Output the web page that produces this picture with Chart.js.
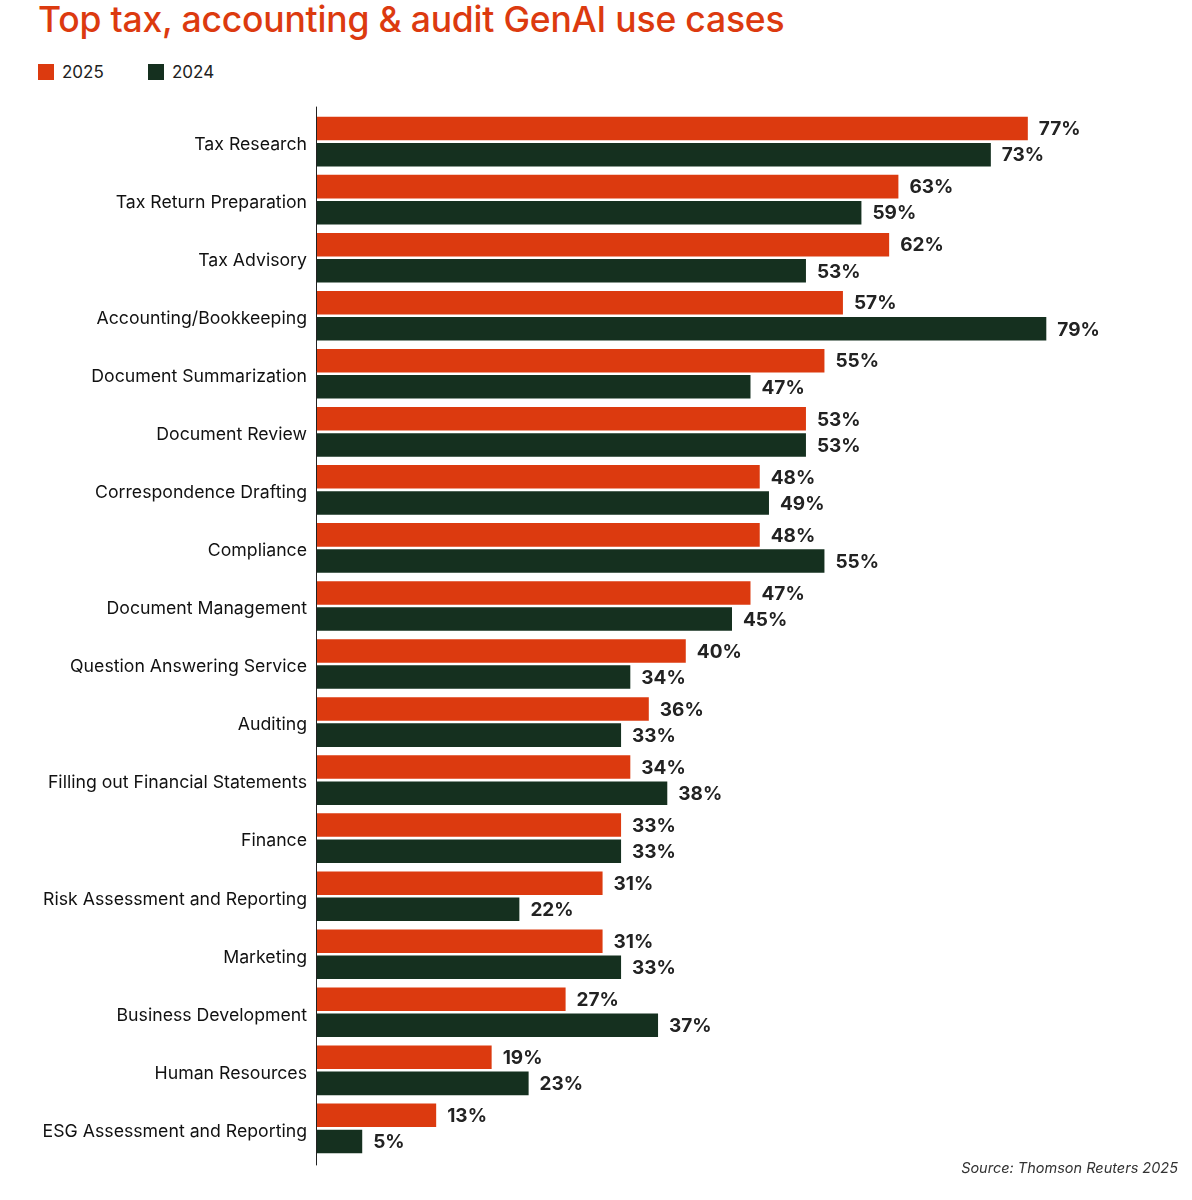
<!DOCTYPE html>
<html>
<head>
<meta charset="utf-8">
<script src="https://cdn.jsdelivr.net/npm/chart.js@4"></script>
<style>
  body { margin: 0; background: #fff; font-family: Inter, "Noto Sans", sans-serif; }
  #wrap { position: relative; width: 1192px; height: 1200px; }
  h1 { position: absolute; left: 38px; top: -2px; margin: 0; font-size: 35.5px; font-weight: 500; color: #DC3A0F; letter-spacing: -0.2px; }
  .legend { position: absolute; top: 62px; left: 38px; font-size: 17px; color: #222; }
  .legend span { position: absolute; white-space: nowrap; line-height: 20px; }
  .legend i { display: inline-block; width: 16px; height: 16px; vertical-align: -2px; margin-right: 8px; }
  #box { position: absolute; left: 0; top: 93px; width: 1192px; height: 1084px; }
  .src { position: absolute; right: 14px; top: 1159px; font-size: 14.5px; font-style: italic; color: #333; }
</style>
</head>
<body>
<div id="wrap">
  <h1>Top tax, accounting &amp; audit GenAI use cases</h1>
  <div class="legend">
    <span style="left:0"><i style="background:#DC3A0F"></i>2025</span>
    <span style="left:110px"><i style="background:#15301F"></i>2024</span>
  </div>
  <div id="box"><canvas id="chart"></canvas></div>
  <div class="src">Source: Thomson Reuters 2025</div>
</div>
<script>
const categories = [
  'Tax Research', 'Tax Return Preparation', 'Tax Advisory', 'Accounting/Bookkeeping',
  'Document Summarization', 'Document Review', 'Correspondence Drafting', 'Compliance',
  'Document Management', 'Question Answering Service', 'Auditing',
  'Filling out Financial Statements', 'Finance', 'Risk Assessment and Reporting',
  'Marketing', 'Business Development', 'Human Resources', 'ESG Assessment and Reporting'
];
const values2025 = [77, 63, 62, 57, 55, 53, 48, 48, 47, 40, 36, 34, 33, 31, 31, 27, 19, 13];
const values2024 = [73, 59, 53, 79, 47, 53, 49, 55, 45, 34, 33, 38, 33, 22, 33, 37, 23, 5];

// draws the "77%" style labels at the end of each bar
const valueLabels = {
  id: 'valueLabels',
  afterDatasetsDraw(chart) {
    const ctx = chart.ctx;
    ctx.save();
    ctx.font = '700 19px Inter, "Noto Sans", sans-serif';
    ctx.fillStyle = '#222';
    ctx.textBaseline = 'middle';
    chart.data.datasets.forEach((ds, i) => {
      chart.getDatasetMeta(i).data.forEach((bar, j) => {
        ctx.fillText(ds.data[j] + '%', bar.x + 11, bar.y + 1);
      });
    });
    ctx.restore();
  }
};

// the vertical axis line runs a little past the first and last category
const axisLine = {
  id: 'axisLine',
  afterDraw(chart) {
    const { ctx, chartArea } = chart;
    ctx.save();
    ctx.strokeStyle = '#222';
    ctx.lineWidth = 1;
    ctx.beginPath();
    ctx.moveTo(chartArea.left + 0.5, chartArea.top - 6);
    ctx.lineTo(chartArea.left + 0.5, chartArea.bottom + 8);
    ctx.stroke();
    ctx.restore();
  }
};

new Chart(document.getElementById('chart'), {
  type: 'bar',
  data: {
    labels: categories,
    datasets: [
      { label: '2025', data: values2025, backgroundColor: '#DC3A0F' },
      { label: '2024', data: values2024, backgroundColor: '#15301F' }
    ]
  },
  options: {
    indexAxis: 'y',
    responsive: true,
    maintainAspectRatio: false,
    animation: false,
    categoryPercentage: 0.9,
    barPercentage: 0.9,
    layout: { padding: { left: 0, right: 44, top: 0, bottom: 0 } },
    plugins: { legend: { display: false }, tooltip: { enabled: false } },
    scales: {
      x: { display: false, min: 0, max: 90 },
      y: {
        afterFit(s) { s.width = 316; },
        grid: { display: false, drawTicks: false },
        border: { display: false },
        ticks: {
          padding: 9,
          labelOffset: 3,
          color: '#111',
          font: { family: 'Inter, "Noto Sans", sans-serif', size: 17.7 }
        }
      }
    }
  },
  plugins: [valueLabels, axisLine]
});
</script>
</body>
</html>
